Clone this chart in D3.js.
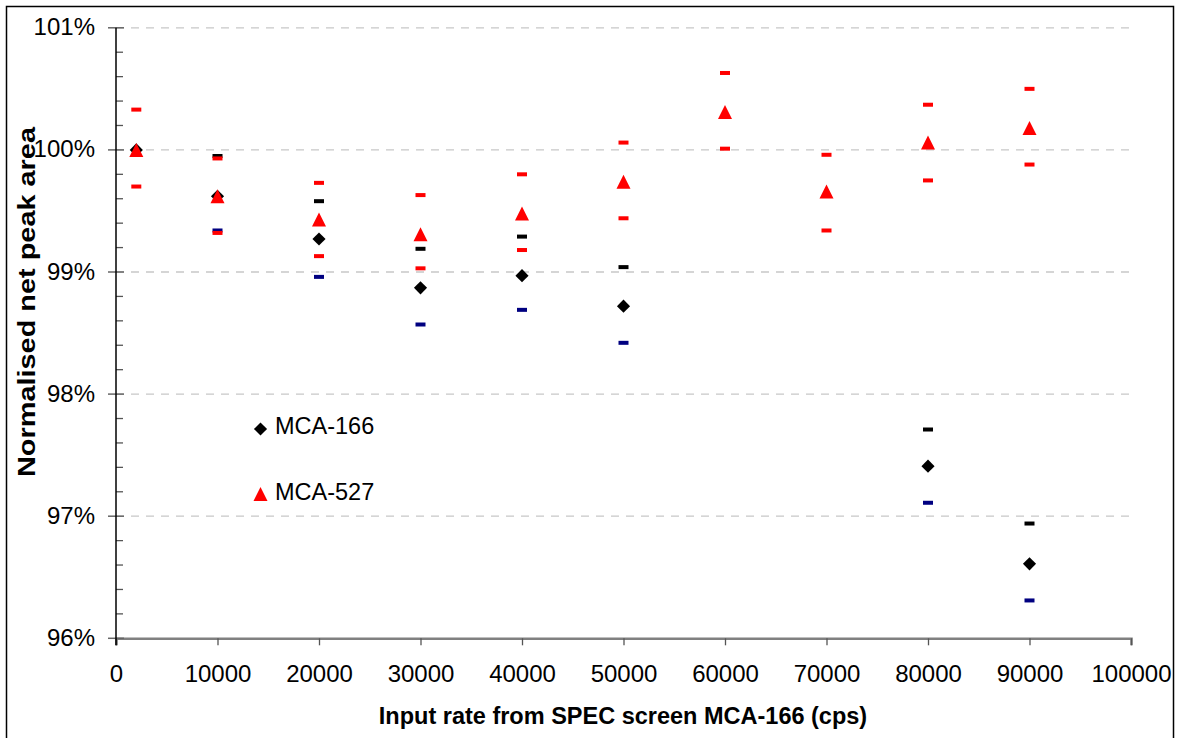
<!DOCTYPE html>
<html>
<head>
<meta charset="utf-8">
<script src="https://cdn.jsdelivr.net/npm/d3@7"></script>
<style>
  body { margin: 0; background: #fff; }
  svg text { font-family: "Liberation Sans", Arial, sans-serif; fill: #000; }
</style>
</head>
<body>
<div id="chart"></div>
<script>
// input rate (cps)
var inputRates = [2000, 10000, 20000, 30000, 40000, 50000, 60000, 70000, 80000, 90000];

// MCA-166 normalised net peak area (%), with upper / lower uncertainty marks
var mca166      = [100.00, 99.62, 99.27, 98.87, 98.97, 98.72, null, null, 97.41, 96.61];
var mca166Upper = [null,   99.95, 99.58, 99.19, 99.29, 99.04, null, null, 97.71, 96.94];
var mca166Lower = [null,   99.34, 98.96, 98.57, 98.69, 98.42, null, null, 97.11, 96.31];

// MCA-527
var mca527      = [100.00, 99.62, 99.43, 99.31, 99.48, 99.74, 100.31, 99.66, 100.06, 100.18];
var mca527Upper = [100.33, 99.93, 99.73, 99.63, 99.80, 100.06, 100.63, 99.96, 100.37, 100.50];
var mca527Lower = [99.70,  99.32, 99.13, 99.03, 99.18, 99.44, 100.01, 99.34, 99.75, 99.88];

var xTicks = [0, 10000, 20000, 30000, 40000, 50000, 60000, 70000, 80000, 90000, 100000];
var yTicks = [96, 97, 98, 99, 100, 101];
var legendNames = ["MCA-166", "MCA-527"];

var W = 1181, H = 738;

var svg = d3.select("#chart").append("svg")
    .attr("width", W)
    .attr("height", H);

// chart frame
svg.append("rect")
    .attr("x", 6.5).attr("y", 6.5)
    .attr("width", 1167).attr("height", 760)
    .attr("fill", "none")
    .attr("stroke", "#000")
    .attr("stroke-width", 1.5);

var x = d3.scaleLinear().domain([0, 100000]).range([116, 1131]);
var y = d3.scaleLinear().domain([96, 101]).range([638.3, 27.8]);

// gridlines
svg.append("g").selectAll("line")
    .data(yTicks.filter(function (d) { return d > 96; }))
    .enter().append("line")
    .attr("x1", x(0)).attr("x2", x(100000))
    .attr("y1", function (d) { return y(d); })
    .attr("y2", function (d) { return y(d); })
    .attr("stroke", "#c8c8c8")
    .attr("stroke-width", 1.3)
    .attr("stroke-dasharray", "8,7");

// x axis
var xAxis = d3.axisBottom(x)
    .tickValues(xTicks)
    .tickSize(7)
    .tickPadding(20)
    .tickFormat(d3.format("d"));
var gx = svg.append("g")
    .attr("transform", "translate(0," + y(96) + ")")
    .call(xAxis);
gx.select(".domain").attr("stroke", "#808080").attr("stroke-width", 2.5);
gx.selectAll(".tick line").attr("stroke", "#555").attr("stroke-width", 1.3);
gx.selectAll(".tick text")
    .style("font-family", "Liberation Sans, Arial, sans-serif")
    .style("font-size", "24px");

// y axis: minor ticks inside, major ticks crossing
var minor = d3.range(96, 101.001, 0.2).filter(function (d) {
    return Math.abs(d - Math.round(d)) > 0.01;
});
svg.append("g").selectAll("line")
    .data(minor)
    .enter().append("line")
    .attr("x1", x(0)).attr("x2", x(0) + 7)
    .attr("y1", function (d) { return y(d); })
    .attr("y2", function (d) { return y(d); })
    .attr("stroke", "#555")
    .attr("stroke-width", 1.3);
svg.append("g").selectAll("line")
    .data(yTicks)
    .enter().append("line")
    .attr("x1", x(0) - 8).attr("x2", x(0) + 8)
    .attr("y1", function (d) { return y(d); })
    .attr("y2", function (d) { return y(d); })
    .attr("stroke", "#666")
    .attr("stroke-width", 1.5);
svg.append("line")
    .attr("x1", x(0)).attr("x2", x(0))
    .attr("y1", y(101)).attr("y2", y(96) + 7)
    .attr("stroke", "#000")
    .attr("stroke-width", 1.5);
svg.append("g").selectAll("text")
    .data(yTicks)
    .enter().append("text")
    .attr("x", 95)
    .attr("y", function (d) { return y(d) + 7.5; })
    .attr("text-anchor", "end")
    .style("font-size", "24px")
    .text(function (d) { return d + "%"; });

// axis titles
svg.append("text")
    .attr("x", 623).attr("y", 724)
    .attr("text-anchor", "middle")
    .style("font-size", "23.5px")
    .style("font-weight", "bold")
    .text("Input rate from SPEC screen MCA-166 (cps)");
svg.append("text")
    .attr("transform", "translate(35,302) rotate(-90)")
    .attr("text-anchor", "middle")
    .attr("textLength", 350)
    .attr("lengthAdjust", "spacingAndGlyphs")
    .style("font-size", "24px")
    .style("font-weight", "bold")
    .text("Normalised net peak area");

// point helpers
function pts(vals) {
    return inputRates.map(function (r, i) { return { x: r, v: vals[i] }; })
        .filter(function (d) { return d.v !== null; });
}
var diamond = d3.symbol().type(d3.symbolDiamond2).size(110);
// triangle marker, 14 wide and 14 tall, centred on its box
var triangle = d3.line()([[0, -7], [7, 7], [-7, 7]]) + "Z";

function dashes(vals, color) {
    svg.append("g").selectAll("rect")
        .data(pts(vals))
        .enter().append("rect")
        .attr("x", function (d) { return x(d.x) - 5; })
        .attr("y", function (d) { return y(d.v) - 2; })
        .attr("width", 10).attr("height", 4)
        .attr("fill", color);
}

// MCA-166
dashes(mca166Upper, "#000");
dashes(mca166Lower, "#000080");
svg.append("g").selectAll("path")
    .data(pts(mca166))
    .enter().append("path")
    .attr("d", diamond)
    .attr("transform", function (d) { return "translate(" + x(d.x) + "," + y(d.v) + ")"; })
    .attr("fill", "#000");

// MCA-527
dashes(mca527Upper, "#ff0000");
dashes(mca527Lower, "#ff0000");
svg.append("g").selectAll("path")
    .data(pts(mca527))
    .enter().append("path")
    .attr("d", triangle)
    .attr("transform", function (d) { return "translate(" + x(d.x) + "," + y(d.v) + ")"; })
    .attr("fill", "#ff0000");

// legend
var legend = svg.append("g");
legend.append("path")
    .attr("d", diamond)
    .attr("transform", "translate(260.5,429)")
    .attr("fill", "#000");
legend.append("path")
    .attr("d", triangle)
    .attr("transform", "translate(260.5,494)")
    .attr("fill", "#ff0000");
legend.selectAll("text")
    .data(legendNames)
    .enter().append("text")
    .attr("x", 275)
    .attr("y", function (d, i) { return 433.5 + i * 66; })
    .style("font-size", "23.5px")
    .text(function (d) { return d; });
</script>
</body>
</html>
